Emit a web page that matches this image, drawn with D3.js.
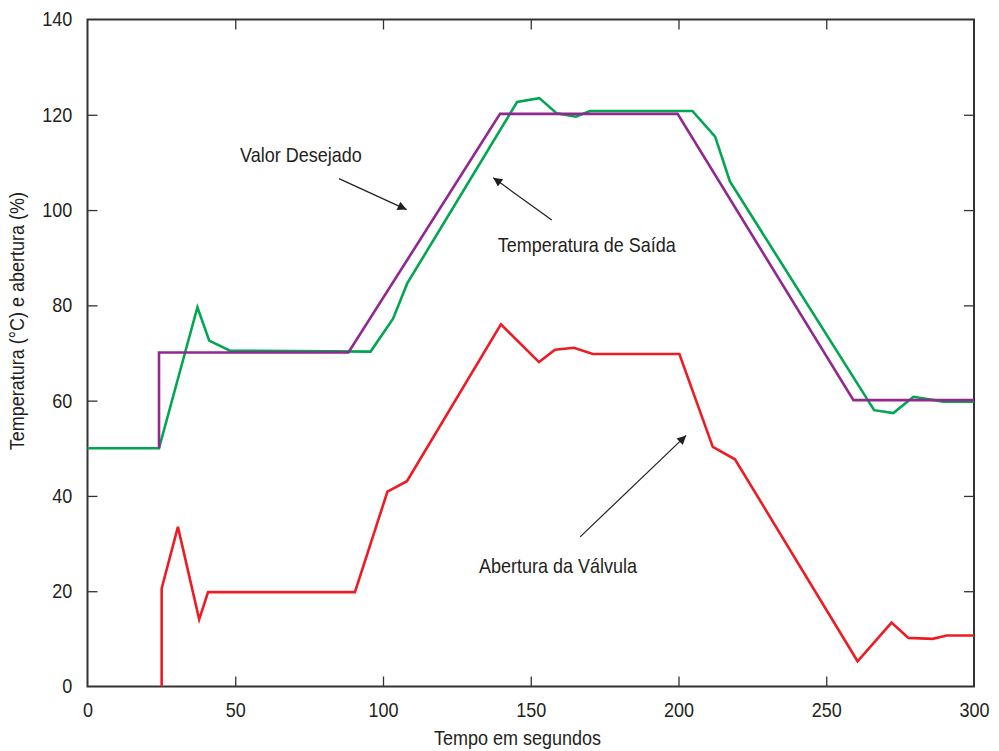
<!DOCTYPE html>
<html>
<head>
<meta charset="utf-8">
<script src="https://cdn.jsdelivr.net/npm/d3@7"></script>
<style>
  body { margin: 0; background: #fff; }
  text { font-family: "Liberation Sans", Arial, sans-serif; fill: #231f20; }
</style>
</head>
<body>
<div id="chart"></div>
<script>
// data (time in s, value in °C or %)
const saidaT = [0, 24.2, 37.2, 41.2, 48.2, 95.8, 103.4, 108.2, 145.4, 152.9, 158.8, 165.3, 170, 204.7, 212.4, 217.4, 266.2, 272.7, 279.5, 289.6, 300];
const saidaV = [50, 50, 79.6, 72.6, 70.5, 70.3, 77.2, 84.6, 122.7, 123.5, 120.3, 119.6, 120.8, 120.8, 115.4, 106, 58, 57.4, 60.8, 59.8, 59.8];

const desejadoT = [24.2, 24.2, 88.3, 139.6, 199.7, 259.2, 300];
const desejadoV = [50, 70.1, 70.1, 120.2, 120.2, 60.1, 60.1];

const aberturaT = [25.1, 25.1, 30.6, 37.8, 40.8, 90.5, 101.5, 108.1, 139.9, 152.8, 158.2, 164.6, 171, 200.3, 211.6, 219.1, 260.6, 272.1, 277.8, 286, 290.8, 300];
const aberturaV = [0, 20.6, 33.5, 14.1, 19.8, 19.8, 40.9, 43.1, 76, 68.1, 70.7, 71.1, 69.8, 69.8, 50.3, 47.7, 5.3, 13.4, 10.2, 10, 10.7, 10.7];

const xTicks = [0, 50, 100, 150, 200, 250, 300];
const yTicks = [0, 20, 40, 60, 80, 100, 120, 140];

// annotations: label text, label anchor, arrow tail, arrow head (data units)
const notes = [
  { text: 'Valor Desejado', tx: 51.6, ty: 110, x1: 85.1, y1: 106.6, x2: 108, y2: 100.1 },
  { text: 'Temperatura de Saída', tx: 138.8, ty: 91.2, x1: 157.1, y1: 97.9, x2: 137.3, y2: 106.8 },
  { text: 'Abertura da Válvula', tx: 132.5, ty: 23.8, x1: 166.7, y1: 31.4, x2: 202.6, y2: 52.7 }
];

const width = 999, height = 751;
const margin = { top: 19.5, right: 25, bottom: 64.5, left: 87.5 };
const narrow = 'scale(0.9,1)'; // condensed look of the original type

const svg = d3.select('#chart').append('svg')
  .attr('width', width).attr('height', height);

const x = d3.scaleLinear().domain([0, 300]).range([margin.left, width - margin.right]);
const y = d3.scaleLinear().domain([0, 140]).range([height - margin.bottom, margin.top]);

svg.append('defs').append('marker')
  .attr('id', 'head').attr('viewBox', '0 0 10 10')
  .attr('refX', 10).attr('refY', 5)
  .attr('markerWidth', 11).attr('markerHeight', 9)
  .attr('markerUnits', 'userSpaceOnUse')
  .attr('orient', 'auto')
  .append('path').attr('d', 'M0,0 L10,5 L0,10 z').attr('fill', '#231f20');

// box axes, ticks pointing inward
const axisColor = '#333';
function styleAxis(g) {
  g.select('.domain').remove();
  g.selectAll('.tick line').attr('stroke', axisColor).attr('stroke-width', 1.3);
  g.selectAll('.tick text')
    .attr('font-size', 20)
    .attr('font-family', '"Liberation Sans", Arial, sans-serif')
    .attr('fill', '#231f20')
    .attr('transform', narrow);
}

svg.append('g')
  .attr('transform', `translate(0,${y(0)})`)
  .call(d3.axisBottom(x).tickValues(xTicks).tickSize(-10).tickPadding(16))
  .call(styleAxis);

svg.append('g')
  .attr('transform', `translate(0,${y(140)})`)
  .call(d3.axisTop(x).tickValues(xTicks).tickSize(-10).tickFormat(''))
  .call(styleAxis);

svg.append('g')
  .attr('transform', `translate(${x(0)},0)`)
  .call(d3.axisLeft(y).tickValues(yTicks).tickSize(-10).tickPadding(17))
  .call(styleAxis);

svg.append('g')
  .attr('transform', `translate(${x(300)},0)`)
  .call(d3.axisRight(y).tickValues(yTicks).tickSize(-10).tickFormat(''))
  .call(styleAxis);

// no tick marks at the box corners
svg.selectAll('.tick').filter(d => d === 0 || d === 300 || d === 140).select('line').remove();

svg.append('rect')
  .attr('x', x(0)).attr('y', y(140))
  .attr('width', x(300) - x(0)).attr('height', y(0) - y(140))
  .attr('fill', 'none').attr('stroke', axisColor).attr('stroke-width', 2);

// lines
const line = d3.line().x(d => x(d[0])).y(d => y(d[1]));
const series = [
  { t: saidaT, v: saidaV, color: '#00a650' },
  { t: desejadoT, v: desejadoV, color: '#92278f' },
  { t: aberturaT, v: aberturaV, color: '#ed1c24' }
];
series.forEach(s => {
  svg.append('path')
    .datum(d3.zip(s.t, s.v))
    .attr('d', line)
    .attr('fill', 'none')
    .attr('stroke', s.color)
    .attr('stroke-width', 2.6)
    .attr('stroke-linejoin', 'miter');
});

// annotations
notes.forEach(n => {
  svg.append('line')
    .attr('x1', x(n.x1)).attr('y1', y(n.y1))
    .attr('x2', x(n.x2)).attr('y2', y(n.y2))
    .attr('stroke', '#231f20').attr('stroke-width', 1.2)
    .attr('marker-end', 'url(#head)');
  svg.append('text')
    .attr('transform', `translate(${x(n.tx)},${y(n.ty)}) ${narrow}`)
    .attr('font-size', 20)
    .text(n.text);
});

// axis titles
svg.append('text')
  .attr('transform', `translate(${x(145.5)},745) ${narrow}`)
  .attr('text-anchor', 'middle').attr('font-size', 20)
  .text('Tempo em segundos');

svg.append('text')
  .attr('transform', `translate(24,${y(76.7)}) rotate(-90) ${narrow}`)
  .attr('text-anchor', 'middle').attr('font-size', 20)
  .text('Temperatura (°C) e abertura (%)');
</script>
</body>
</html>
